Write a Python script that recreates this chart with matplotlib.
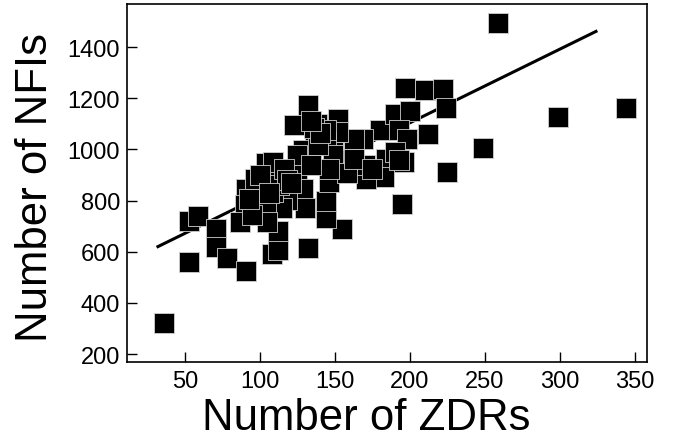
import matplotlib.pyplot as plt
import numpy as np

# number of ZDRs per sample
zdrs = [36, 53, 53, 59, 71, 71, 78, 91, 108, 112, 112, 132, 155, 144, 144,
        195, 225, 249, 259, 299, 344, 197, 210, 222, 224, 212, 132, 123, 152,
        180, 190, 200, 193, 198, 196, 184, 183, 171, 170, 169, 163, 152, 138,
        137, 129, 149, 158, 155, 146, 129, 130, 118, 115, 111, 104, 118, 125,
        91, 90, 87, 98, 102, 104, 105, 97, 109, 95, 112, 125, 144, 149, 139,
        144, 190, 193, 158, 163, 175, 146, 134, 113, 93, 109, 116, 118, 136,
        140, 134, 121, 100, 106]
# number of NFIs per sample
nfis = [320, 560, 720, 740, 690, 620, 575, 525, 590, 605, 680, 615, 690, 730,
        800, 786, 910, 1006, 1495, 1127, 1162, 1240, 1231, 1235, 1160, 1062,
        1172, 1097, 1120, 1075, 1140, 1150, 1075, 1040, 950, 964, 893, 886,
        938, 1040, 1040, 1068, 1100, 1050, 997, 990, 958, 912, 873, 847, 770,
        802, 770, 880, 945, 919, 925, 847, 782, 717, 808, 860, 756, 717, 886,
        834, 743, 912, 977, 1030, 977, 1016, 1075, 990, 958, 906, 964, 925,
        925, 938, 860, 808, 951, 925, 880, 1085, 1065, 1110, 870, 900, 830]

# least-squares line
fit_slope = 2.88
fit_intercept = 528
fit_x = [32, 324]

plt.rcParams['font.family'] = ['Liberation Sans', 'DejaVu Sans']

fig = plt.figure(figsize=(6.75, 4.39), dpi=100)
ax = fig.add_axes([0.188, 0.173, 0.7705, 0.8155])

ax.scatter(zdrs, nfis, marker='s', s=210, c='black', edgecolors='#d0d0d0',
           linewidths=0.6, zorder=3)
fx = np.array(fit_x)
ax.plot(fx, fit_slope * fx + fit_intercept, color='black', lw=2.2, zorder=2)

ax.set_xlim(11.3, 358)
ax.set_ylim(169, 1568)
ax.set_xticks([50, 100, 150, 200, 250, 300, 350])
ax.set_yticks([200, 400, 600, 800, 1000, 1200, 1400])
ax.tick_params(direction='in', length=7, width=1, labelsize=17, pad=6)
ax.tick_params(axis='y', pad=5)
for sp in ax.spines.values():
    sp.set_linewidth(1.2)

ax.set_xlabel('Number of ZDRs', fontsize=31.5, va='baseline')
ax.xaxis.set_label_coords(0.46, -0.188)
ax.set_ylabel('Number of NFIs', fontsize=31.5, va='baseline')
ax.yaxis.set_label_coords(-0.154, 0.49)

fig.savefig('out.png', dpi=100)
